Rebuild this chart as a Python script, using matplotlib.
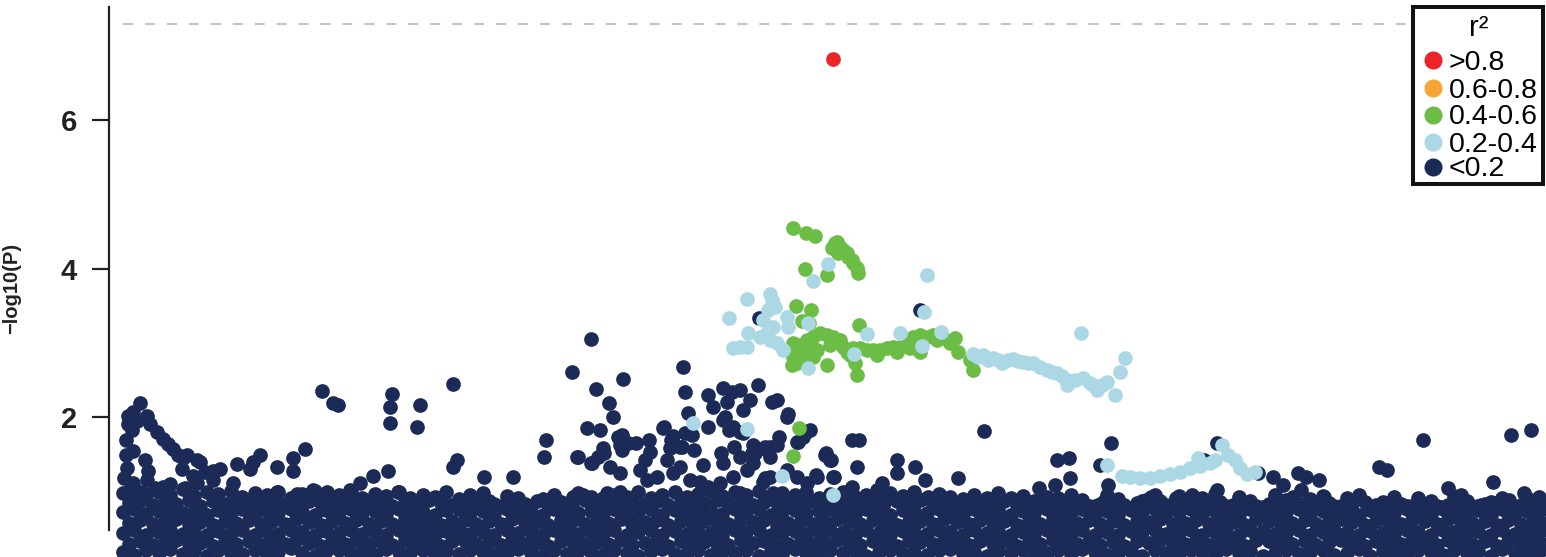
import matplotlib
matplotlib.use('Agg')
import matplotlib.pyplot as plt
from matplotlib.patches import Rectangle
from matplotlib.lines import Line2D

plt.rcParams['font.family'] = ['Liberation Sans', 'DejaVu Sans']
plt.rcParams['lines.scale_dashes'] = False

# position (kb, relative) and -log10(P)
# dense band of weak SNPs near the bottom (two interleaved position sets)
band_pos_a = [14,25,37,50,61,74,85,98,109,122,
              133,146,158,169,182,193,206,217,230,242,
              253,266,277,290,301,314,326,337,350,361,
              374,385,398,409,422,434,445,458,469,482,
              494,505,518,529,542,553,566,578,589,602,
              613,626,637,650,662,673,686,697,710,721,
              734,746,757,770,781,794,805,818,830,841,
              854,865,878,889,902,914,925,938,949,962,
              973,986,998,1009,1022,1033,1046,1057,1070,1082,
              1093,1106,1117,1130,1141,1154,1166,1177,1190,1201,
              1214,1225,1238,1250,1261,1274,1285,1298,1309,1322,
              1334,1345,1358,1369,1382,1393,1406,1418,1430]
band_pos_b = [20,31,44,56,67,80,91,104,116,127,
              140,152,163,176,187,200,212,223,236,247,
              260,272,283,296,307,320,332,343,356,367,
              380,392,403,416,428,439,452,463,476,488,
              499,512,523,536,548,559,572,584,595,608,
              619,632,644,655,668,679,692,704,715,728,
              740,751,764,775,788,800,811,824,835,848,
              860,871,884,895,908,920,931,944,955,968,
              980,991,1004,1015,1028,1040,1051,1064,1076,1087,
              1100,1111,1124,1136,1147,1160,1172,1183,1196,1207,
              1220,1232,1243,1256,1267,1280,1292,1303,1316,1328,
              1339,1352,1363,1376,1388,1399,1412,1424,1433]
band_p1 = [0.19,0.15,0.21,0.17,0.23,0.16,0.2,0.14,0.22,0.18,
           0.16,0.21,0.15,0.19,0.24,0.17,0.14,0.2,0.22,0.16,
           0.18,0.15,0.23,0.19,0.17,0.21,0.14,0.2,0.16,0.22,
           0.19,0.15,0.17,0.23,0.18,0.14,0.21,0.16,0.2,0.19,
           0.15,0.22,0.17,0.14,0.2,0.23,0.16,0.18,0.21,0.15,
           0.19,0.17,0.22,0.14,0.2,0.16,0.23,0.18,0.15,0.21,
           0.17,0.2,0.14,0.19,0.22,0.16,0.18,0.15,0.21,0.23,
           0.16,0.19,0.14,0.2,0.17,0.22,0.15,0.18,0.21,0.16,
           0.23,0.19,0.15,0.17,0.2,0.14,0.22,0.18,0.16,0.21,
           0.19,0.15,0.23,0.17,0.2,0.14,0.18,0.22,0.16,0.19,
           0.21,0.15,0.17,0.23,0.14,0.2,0.18,0.16,0.22,0.19,
           0.15,0.21,0.17,0.2,0.14,0.23,0.18,0.16,0.19]
band_p2 = [0.3,0.34,0.28,0.32,0.35,0.29,0.31,0.27,0.33,0.3,
           0.34,0.28,0.32,0.29,0.35,0.31,0.27,0.33,0.3,0.34,
           0.29,0.32,0.28,0.35,0.31,0.3,0.27,0.33,0.34,0.29,
           0.32,0.28,0.35,0.3,0.31,0.27,0.34,0.33,0.29,0.32,
           0.3,0.35,0.28,0.31,0.34,0.27,0.33,0.29,0.32,0.3,
           0.28,0.35,0.31,0.34,0.27,0.3,0.33,0.29,0.32,0.35,
           0.31,0.28,0.34,0.3,0.27,0.33,0.32,0.29,0.35,0.31,
           0.28,0.34,0.3,0.33,0.27,0.32,0.29,0.35,0.31,0.3,
           0.34,0.28,0.32,0.27,0.33,0.31,0.35,0.29,0.3,0.34,
           0.28,0.32,0.31,0.27,0.35,0.33,0.29,0.3,0.34,0.28,
           0.32,0.35,0.31,0.27,0.33,0.3,0.29,0.34,0.32,0.28,
           0.35,0.31,0.3,0.33,0.27,0.34,0.29,0.32,0.3]
band_p3 = [0.44,0.48,0.42,0.46,0.49,0.43,0.45,0.41,0.47,0.44,
           0.48,0.42,0.46,0.43,0.49,0.45,0.41,0.47,0.44,0.48,
           0.43,0.46,0.42,0.49,0.45,0.44,0.41,0.47,0.48,0.43,
           0.46,0.42,0.49,0.44,0.45,0.41,0.48,0.47,0.43,0.46,
           0.44,0.49,0.42,0.45,0.48,0.41,0.47,0.43,0.46,0.44,
           0.42,0.49,0.45,0.48,0.41,0.44,0.47,0.43,0.46,0.49,
           0.45,0.42,0.48,0.44,0.41,0.47,0.46,0.43,0.49,0.45,
           0.42,0.48,0.44,0.47,0.41,0.46,0.43,0.49,0.45,0.44,
           0.48,0.42,0.46,0.41,0.47,0.45,0.49,0.43,0.44,0.48,
           0.42,0.46,0.45,0.41,0.49,0.47,0.43,0.44,0.48,0.42,
           0.46,0.49,0.45,0.41,0.47,0.44,0.43,0.48,0.46,0.42,
           0.49,0.45,0.44,0.47,0.41,0.48,0.43,0.46,0.44]
band_p4 = [0.58,0.62,0.56,0.6,0.63,0.57,0.59,0.55,0.61,0.58,
           0.62,0.56,0.6,0.57,0.63,0.59,0.55,0.61,0.58,0.62,
           0.57,0.6,0.56,0.63,0.59,0.58,0.55,0.61,0.62,0.57,
           0.6,0.56,0.63,0.58,0.59,0.55,0.62,0.61,0.57,0.6,
           0.58,0.63,0.56,0.59,0.62,0.55,0.61,0.57,0.6,0.58,
           0.56,0.63,0.59,0.62,0.55,0.58,0.61,0.57,0.6,0.63,
           0.59,0.56,0.62,0.58,0.55,0.61,0.6,0.57,0.63,0.59,
           0.56,0.62,0.58,0.61,0.55,0.6,0.57,0.63,0.59,0.58,
           0.62,0.56,0.6,0.55,0.61,0.59,0.63,0.57,0.58,0.62,
           0.56,0.6,0.59,0.55,0.63,0.61,0.57,0.58,0.62,0.56,
           0.6,0.63,0.59,0.55,0.61,0.58,0.57,0.62,0.6,0.56,
           0.63,0.59,0.58,0.61,0.55,0.62,0.57,0.6,0.58]
band_p5 = [0.72,0.76,0.7,0.74,0.77,0.71,0.73,0.69,0.75,0.72,
           0.76,0.7,0.74,0.71,0.77,0.73,0.69,0.75,0.72,0.76,
           0.71,0.74,0.7,0.77,0.73,0.72,0.69,0.75,0.76,0.71,
           0.74,0.7,0.77,0.72,0.73,0.69,0.76,0.75,0.71,0.74,
           0.72,0.77,0.7,0.73,0.76,0.69,0.75,0.71,0.74,0.72,
           0.7,0.77,0.73,0.76,0.69,0.72,0.75,0.71,0.74,0.77,
           0.73,0.7,0.76,0.72,0.69,0.75,0.74,0.71,0.77,0.73,
           0.7,0.76,0.72,0.75,0.69,0.74,0.71,0.77,0.73,0.72,
           0.76,0.7,0.74,0.69,0.75,0.73,0.77,0.71,0.72,0.76,
           0.7,0.74,0.73,0.69,0.77,0.75,0.71,0.72,0.76,0.7,
           0.74,0.77,0.73,0.69,0.75,0.72,0.71,0.76,0.74,0.7,
           0.77,0.73,0.72,0.75,0.69,0.76,0.71,0.74,0.72]
band_p6 = [0.85,0.88,0.82,0.86,0.84,0.89,0.81,0.87,0.83,0.86,
           0.82,0.85,0.88,0.84,0.81,0.87,0.85,0.83,0.88,0.82,
           0.86,0.84,0.81,0.87,0.83,0.89,0.85,0.82,0.86,0.84,
           0.88,0.81,0.85,0.83,0.87,0.82,0.86,0.84,0.89,0.83,
           0.85,0.81,0.87,0.84,0.88,0.82,0.86,0.83,0.85,0.89,
           0.84,0.87,0.82,0.86,0.85,0.88,0.83,0.87,0.81,0.86,
           0.84,0.88,0.82,0.85,0.87,0.83,0.89,0.84,0.86,0.82,
           0.85,0.81,0.84,0.87,0.82,0.85,0.8,0.84,0.83,0.86,
           0.81,0.84,0.86,0.82,0.85,0.8,0.87,0.83,0.85,0.81,
           0.84,0.86,0.82,0.85,0.8,0.83,0.86,0.81,0.84,0.82,
           0.85,0.8,0.83,0.86,0.82,0.8,0.84,0.81,0.83,0.8,
           0.82,0.85,0.81,0.83,0.8,0.84,0.82,0.83,0.85]
band_p7 = [0.98,1.02,0.95,1.0,0.96,1.03,0.94,0.99,0.97,1.01,
           0.93,0.98,0.95,1.0,0.92,0.97,1.01,0.94,0.96,0.99,
           0.91,0.97,0.94,1.0,0.92,0.96,0.93,0.99,0.9,0.95,
           0.98,0.83,0.94,0.92,0.8,0.9,0.95,0.84,0.98,0.93,
           0.91,0.96,0.93,0.99,0.92,0.95,1.0,0.93,0.97,1.01,
           0.94,0.99,0.96,1.01,0.93,0.98,0.95,1.0,0.92,0.97,
           0.99,0.93,0.96,0.91,0.98,0.94,1.0,0.92,0.97,0.93,
           0.9,0.95,0.92,0.98,0.91,0.94,0.88,0.93,0.91,0.96,
           0.89,0.8,0.95,0.9,0.78,0.88,0.96,0.82,0.94,0.89,
           0.92,0.97,0.81,0.93,0.87,0.79,0.95,0.89,0.83,0.9,
           0.94,0.8,0.91,0.96,0.78,0.86,0.93,0.81,0.91,0.87,
           0.79,0.94,0.88,0.8,0.86,0.92,0.78,0.91,0.93]

# r2 < 0.2, scattered above the band
navy_pts = [(31,2.19),(19,2.02),(19,1.91),(24,2.07),(23,1.83),(28,1.95),(38,2.02),(41,1.91),(48,1.80),(54,1.71),
            (59,1.64),(64,1.57),(69,1.49),(74,1.45),(78,1.49),(88,1.43),(91,1.40),(24,1.55),(36,1.43),(39,1.28),
            (38,1.16),(24,1.12),(54,1.06),(73,1.31),(84,1.21),(96,1.27),(104,1.28),(111,1.31),(128,1.37),(141,1.31),
            (151,1.49),(144,1.40),(168,1.33),(184,1.45),(184,1.28),(196,1.57),(213,2.36),(224,2.19),(229,2.17),(283,2.31),
            (281,2.14),(281,1.92),(279,1.28),(289,1.00),(264,1.21),(251,1.12),(241,1.02),(204,1.02),(218,1.00),(188,0.97),
            (168,1.00),(124,1.12),(104,1.16),(88,1.12),(17,1.70),(17,1.49),(18,1.32),(15,1.18),(21,1.02),(32,1.00),
            (46,1.05),(61,1.10),(76,1.05),
            (311,2.17),(308,1.87),(344,2.45),(348,1.43),(344,1.33),(375,1.20),(404,1.20),(437,1.70),(435,1.47),(463,2.61),
            (487,2.38),(514,2.52),(500,2.19),(504,2.01),(478,1.86),(491,1.83),(469,1.47),(482,1.39),(495,1.52),(509,1.74),
            (513,1.56),(527,1.66),(536,1.43),(540,1.70),(555,1.87),(562,1.70),(571,1.60),(576,1.79),(574,2.68),(576,2.34),
            (579,2.06),(482,3.05),(599,2.30),(614,2.40),(623,2.34),(631,2.37),(641,2.23),(649,2.44),(604,2.14),(618,2.21),
            (634,2.10),(663,2.21),(668,2.23),(679,2.05),(599,1.87),(614,1.97),(624,1.87),(631,1.80),(554,1.86),(564,1.75),
            (583,1.76),(513,1.76),(511,1.63),(519,1.66),(541,1.53),(494,1.59),(489,1.47),(468,1.47),(483,1.39),(501,1.33),
            (511,1.25),(561,1.59),(573,1.60),(644,1.63),(658,1.56),(668,1.63),(688,1.67),(701,1.83),(694,1.74),(631,1.47),
            (644,1.39),(638,1.29),(614,1.39),(594,1.36),(716,1.49),(721,1.43),(558,1.43),(571,1.33),(531,1.29),(538,1.16),
            (548,1.20),(564,1.25),(581,1.16),(591,1.13),(661,1.20),(654,1.13),(678,1.29),(688,1.20),(698,1.12),(708,1.20),
            (724,1.20),(611,1.12),(624,1.20),(599,1.06),(631,0.98),(464,0.93),(444,0.93),(474,0.96),(498,0.98),(511,1.00),
            (616,2.01),(620,1.83),(634,1.79),(585,1.56),(612,1.52),(625,1.60),(643,1.52),(661,1.60),(670,1.74),(678,2.01),
            (650,3.34),(811,3.45),
            (697,1.80),(689,1.67),(656,1.60),(646,1.52),(661,1.47),(717,1.52),(722,1.43),(743,1.70),(750,1.70),(748,1.33),
            (725,1.20),(707,1.22),(656,1.18),(664,0.98),(788,1.43),(788,1.25),(806,1.33),(816,1.16),(849,1.18),(875,1.82),
            (1002,1.66),(948,1.43),(960,1.45),(991,1.36),(961,1.18),(999,1.09),(930,1.05),(946,1.09),(1108,1.66),(1095,1.43),
            (1149,1.25),(1164,1.20),(1189,1.25),(1197,1.20),(1210,1.16),(1174,1.09),(1192,1.02),(1215,0.93),(1270,1.33),(1278,1.29),
            (1314,1.70),(1402,1.76),(1422,1.83),(1339,1.05),(1415,0.98),(1311,0.85),(1341,0.79),(1372,0.82),(1387,0.85),(1400,0.89),
            (1108,1.02),(1067,0.92),(1083,0.96),(1230,0.71),(1184,0.93),(1037,0.89),(1042,0.93),(996,0.89),(930,0.89),(768,1.02),
            (773,1.12),(732,0.93),(743,1.06),(793,0.93),(819,0.93),(849,0.85),(1384,1.13),(1352,0.96)]

# 0.4 <= r2 < 0.6
green_pts = [(684,4.55),(697,4.48),(706,4.44),(726,4.35),(728,4.36),(723,4.28),(731,4.29),(734,4.25),(729,4.21),(738,4.21),
             (739,4.16),(743,4.12),(744,4.08),(748,4.01),(749,3.94),(696,4.00),(718,3.92),(687,3.50),(702,3.45),(693,3.30),
             (700,3.27),(750,3.24),
             (684,3.00),(684,2.81),(688,2.73),(694,2.91),(698,3.04),(704,3.08),(711,3.14),(718,3.11),(724,3.08),(731,3.04),
             (734,2.95),(738,2.88),(744,2.93),(751,2.93),(758,2.91),(764,2.91),(771,2.91),(778,2.93),(784,2.95),(791,2.95),
             (798,3.00),(804,3.08),(811,3.11),(818,3.08),(824,3.11),(834,3.07),(846,3.07),(849,2.88),(861,2.77),(864,2.64),
             (691,2.77),(686,2.88),(704,2.81),(718,2.71),(746,2.73),(748,2.57),(811,2.88),(690,1.86),(684,1.48),
             (681,2.91),(691,2.97),(701,2.97),(708,2.91),(721,2.97),(741,2.84),(768,2.84),(788,2.88),(801,2.93),(828,3.04),
             (841,3.00),(683,2.71),(699,2.84)]

# 0.2 <= r2 < 0.4
lblue_pts = [(719,4.06),(704,3.84),(818,3.92),(638,3.59),(661,3.66),(663,3.58),(666,3.49),(620,3.34),(639,3.14),(654,3.31),
             (658,3.14),(661,3.04),(668,3.00),(674,2.91),(678,3.35),(679,3.22),(624,2.93),(631,2.95),(638,2.95),(699,3.27),
             (699,2.66),(758,3.12),(745,2.85),(791,3.14),(815,3.42),(813,2.96),(832,3.15),(972,3.14),(659,3.45),(664,3.22),
             (651,3.08),
             (864,2.85),(874,2.84),(884,2.80),(893,2.73),(904,2.79),(914,2.75),(924,2.73),(931,2.68),(938,2.64),(948,2.60),
             (958,2.50),(958,2.44),(974,2.53),(981,2.46),(988,2.37),(998,2.48),(1006,2.30),(1011,2.61),(1016,2.80),(869,2.81),
             (879,2.77),(889,2.77),(899,2.77),(909,2.76),(919,2.73),(943,2.61),(953,2.56),(966,2.50),(984,2.44),(993,2.44),
             (584,1.92),(638,1.84),(673,1.21),(724,0.96),
             (1021,1.20),(1031,1.18),(1041,1.18),(1051,1.21),(1061,1.24),(1071,1.27),(1081,1.32),(1091,1.35),(1101,1.39),(1106,1.43),
             (1113,1.63),(1119,1.49),(1126,1.43),(1131,1.32),(1138,1.24),(1146,1.27),(1089,1.45),(998,1.36),(1013,1.21)]

# lead SNP, r2 > 0.8
red_pos = [724]
red_p = [6.82]

sig_line = 7.3
legend_labels = ['>0.8', '0.6-0.8', '0.4-0.6', '0.2-0.4', '<0.2']

navy = '#1b2a56'
lblue = '#acd8e6'
green = '#6bbd45'
orange = '#f6a634'
red = '#ec2327'
legend_colors = [red, orange, green, lblue, navy]

fig = plt.figure(figsize=(15.46, 5.57), dpi=100)
ax = fig.add_axes([109/1546, 0, 1437/1546, 1])
ax.set_xlim(0, 1437)
ax.set_ylim(0.12, 7.62)

S = 112
band = [(band_pos_a, band_p1), (band_pos_b, band_p2), (band_pos_a, band_p3),
        (band_pos_b, band_p4), (band_pos_a, band_p5), (band_pos_b, band_p6),
        (band_pos_a, band_p7)]
for pos, pv in band:
    ax.scatter(pos, pv, s=S, color=navy, linewidths=0)

ax.scatter([p[0] for p in navy_pts], [p[1] for p in navy_pts], s=S, color=navy, linewidths=0)
ax.scatter([p[0] for p in green_pts], [p[1] for p in green_pts], s=S, color=green, linewidths=0)
ax.scatter([p[0] for p in lblue_pts], [p[1] for p in lblue_pts], s=S, color=lblue, linewidths=0)
ax.scatter(red_pos, red_p, s=S, color=red, linewidths=0)

ax.axhline(sig_line, xmin=14/1437, xmax=1, color='#c4c4c4', lw=1.5, dashes=(7.2, 8.6))

for side in ['top', 'right', 'bottom']:
    ax.spines[side].set_visible(False)
ax.spines['left'].set_bounds(0.48, 7.52)
ax.spines['left'].set_linewidth(1.6)
ax.spines['left'].set_color('#222222')
ax.set_xticks([])
ax.set_yticks([2, 4, 6])
ax.tick_params(axis='y', length=12, width=1.6, pad=11, labelsize=21, color='#222222', labelcolor='#222222')
for lbl in ax.get_yticklabels():
    lbl.set_fontweight('bold')

ax.set_ylabel('\u2212log10(P)', fontsize=14.5, fontweight='bold', color='#222222')
ax.yaxis.set_label_coords(-88/1437, (557-288)/557)

# legend box drawn by hand so it matches the tight spacing
W, H = 1546, 557
fig.add_artist(Rectangle((1413/W, 1-184/H), 130/W, 177/H, transform=fig.transFigure,
                         facecolor='white', edgecolor='#111111', lw=2.9, zorder=5))
fig.text(1479/W, 1-36/H, 'r\u00b2', fontsize=21, ha='center', va='baseline', zorder=6)
rows_y = [60, 88, 115, 142, 167]
for yy, lab, col in zip(rows_y, legend_labels, legend_colors):
    fig.add_artist(Line2D([1433/W], [1-yy/H], marker='o', ms=12, color=col, mec=col,
                          lw=0, transform=fig.transFigure, zorder=6))
    fig.text(1449/W, 1-(yy+9.5)/H, lab, fontsize=20.5, ha='left', va='baseline', zorder=6)

fig.savefig('out.png', dpi=100)
